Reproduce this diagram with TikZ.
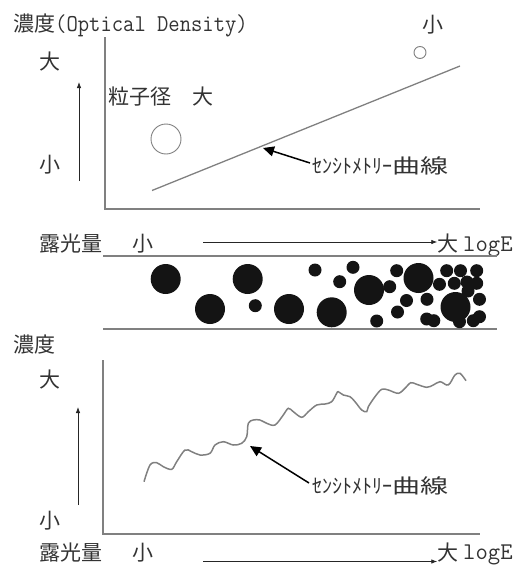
\documentclass[tikz,border=0pt]{standalone}
\usepackage{fontspec}
\setmainfont{Liberation Serif}
\newfontfamily\jp{Noto Sans CJK JP}
\usetikzlibrary{arrows.meta}
\definecolor{txtc}{HTML}{333333}
\definecolor{linec}{HTML}{808080}
\begin{document}
\begin{tikzpicture}[x=1pt,y=-1pt,
  txt/.style={inner sep=0pt, text=txtc, font=\jp\fontsize{21}{21}\selectfont},
  axisline/.style={draw=linec, line width=1.3pt},
  curveline/.style={draw=linec, line width=1.3pt},
  thinarr/.style={draw=black!85, line width=0.8pt, -{Latex[length=6pt,width=4.5pt]}},
  bigarr/.style={draw=black, line width=1.5pt, -{Triangle[length=11pt,width=10pt]}},
  grain/.style={fill=black!92, draw=none},
  ring/.style={draw=linec, line width=0.9pt},
  halfw/.style={inner sep=0pt, text=txtc, font=\jp\fontsize{20}{20}\selectfont},
  latin/.style={inner sep=0pt, text=txtc, font=\ttfamily\fontsize{24}{24}\selectfont},
]
\useasboundingbox (0,0) rectangle (521,565);

% ---------- top panel ----------
\node[txt, anchor=west] (title) at (13,25) {濃度{\ttfamily\fontsize{22}{22}\selectfont\scalebox{1}[1.1]{(Optical Density)}}};
\node[txt] (tbig) at (50,62) {大};
\node[txt] (tsmall) at (50,165) {小};
\coordinate (tya) at (79,181);
\coordinate (tyb) at (79,82);
\draw[thinarr] (tya) -- (tyb);

\coordinate (taxtop) at (105,37);
\coordinate (to) at (105,209);
\coordinate (taxend) at (480,209);
\draw[axisline] (taxtop) -- (to) -- (taxend);

\node[txt, anchor=west] (grainlab) at (108,97) {粒子径　大};
\draw[ring] (166,139) circle[radius=15pt];
\draw[ring] (420,52.5) circle[radius=6pt];
\node[txt] (tsmall2) at (433,25) {小};

\coordinate (tl1) at (152,190.5);
\coordinate (tl2) at (460,66);
\draw[curveline] (tl1) -- (tl2);

\node[halfw, anchor=west] (lab1) at (312,166) {ｾﾝｼﾄﾒﾄﾘｰ\scalebox{1.4}[1]{曲線}};
\coordinate (tip1) at (263,148);
\draw[bigarr] (lab1.west) ++(-2,-3) -- (tip1);

% ---------- exposure axis (middle) ----------
\node[txt, anchor=west] (exp1) at (39,244) {露光量};
\node[txt] (ms) at (143,244) {小};
\node[txt] (mb) at (448,244) {大};
\node[latin, anchor=base west] (mlog) at (463,251) {logE};
\coordinate (marr) at (203,242);
\draw[thinarr] (marr) -- (mb.west |- marr);

% ---------- particle band ----------
\coordinate (bl1) at (103,256);
\coordinate (br1) at (497,256);
\coordinate (bl2) at (103,329);
\coordinate (br2) at (497,329);
\draw[draw=linec, line width=1.5pt] (bl1) -- (br1);
\draw[draw=linec, line width=1.5pt] (bl2) -- (br2);

\foreach \x/\y in {165.7/279, 210/309, 247.7/279, 289/309, 331.7/312.3, 369/290, 418.5/278, 455.5/307}
  \fill[grain] (\x,\y) circle[radius=15pt];
\foreach \x/\y in {255.3/305.7, 315/270, 339.7/281.7, 353/267.3, 376.7/321, 389.7/286.7,
  396.7/270.7, 406.5/300.5, 397.5/312, 427/299.3, 426.7/319, 433.8/320.7, 439.5/284.3,
  446.7/270.7, 454.3/283.3, 460.5/270.7, 467/282, 468/291, 476.7/270.7, 476.7/283.3,
  479.5/299.3, 479.5/316.7, 473.3/320.7, 459.5/321.7}
  \fill[grain] (\x,\y) circle[radius=6.5pt];

% ---------- bottom panel ----------
\node[txt, anchor=west] (btitle) at (13,345) {濃度};
\node[txt] (bbig) at (50,380) {大};
\node[txt] (bsmall) at (50,521) {小};
\coordinate (bya) at (78,505);
\coordinate (byb) at (78,407);
\draw[thinarr] (bya) -- (byb);

\coordinate (baxtop) at (103,360);
\coordinate (bo) at (103,534);
\coordinate (baxend) at (480,534);
\draw[axisline] (baxtop) -- (bo) -- (baxend);

\draw[curveline, line width=1.5pt] plot[smooth, tension=0.55] coordinates {
 (144,481.7) (150,465) (156.7,462.7) (163.3,466.7) (171.7,469.3) (176.7,461.7)
 (185,450) (191.7,451.7) (200,455) (210,453.3) (215,445) (223.3,441.7)
 (233.3,445) (241.7,443.3) (246.7,436.7) (248.3,423.3) (253.3,420) (260,420)
 (266.7,423.3) (275,425) (283.3,415) (288.3,408.3) (293.3,411.7) (301.7,417.3)
 (308.3,411.7) (316.7,405) (325,404) (331.7,401.7) (336.7,393.3) (338.3,391.7)
 (343.3,395) (350,396.7) (355,401.7) (361.7,410) (366.7,411.7) (368.3,406.7)
 (375,396.7) (381.7,389.3) (388.3,390) (398.3,393.3) (405,388.3) (410.7,382.7)
 (416.7,384.3) (426.7,387.3) (433.3,385) (440,381.7) (446.7,385) (450,383.3)
 (455,375) (460,373.3) (466,380.7)};

\node[halfw, anchor=west] (lab2) at (312,486) {ｾﾝｼﾄﾒﾄﾘｰ\scalebox{1.4}[1]{曲線}};
\coordinate (tip2) at (250,446);
\draw[bigarr] (lab2.west) ++(-3,-3) -- (tip2);

\node[txt, anchor=west] (exp2) at (39,553) {露光量};
\node[txt] (bs) at (143,553) {小};
\node[txt] (bb) at (448,553) {大};
\node[latin, anchor=base west] (blog) at (463,559) {logE};
\coordinate (barr) at (203,561.5);
\draw[thinarr] (barr) -- (bb.west |- barr);
\end{tikzpicture}
\end{document}
